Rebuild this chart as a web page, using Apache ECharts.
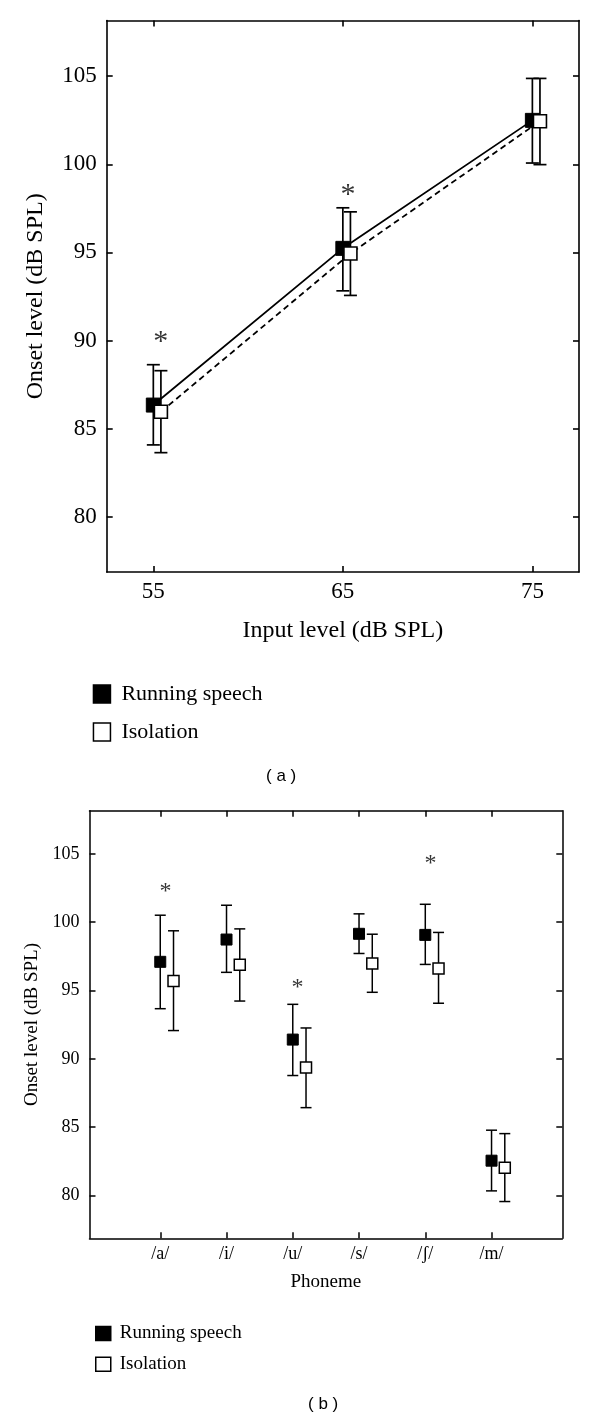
<!DOCTYPE html>
<html><head><meta charset="utf-8">
<script src="https://cdn.jsdelivr.net/npm/echarts@6/dist/echarts.min.js"></script>
<style>html,body{margin:0;padding:0;background:#fff}#c{width:600px;height:1418px}</style>
</head><body><div id="c"></div>
<script>
// ---------- Panel (a) data ----------
const inputLevels = [55, 65, 75];
const runMeanA = [86.34, 95.23, 102.49];
const runLowA  = [84.08, 92.82, 100.07];
const runHighA = [88.63, 97.53, 104.87];
const isoMeanA = [85.96, 94.94, 102.44];
const isoLowA  = [83.64, 92.56, 99.98];
const isoHighA = [88.29, 97.30, 104.87];
const starXA = [55.39, 65.27];
const starYA = [90.37, 98.68];
const yTicks = [80, 85, 90, 95, 100, 105];

// ---------- Panel (b) data ----------
const phonemes = ['/a/', '/i/', '/u/', '/s/', '/ʃ/', '/m/'];
const runMeanB = [97.10, 98.73, 91.41, 99.15, 99.07, 82.55];
const runLowB  = [93.67, 96.33, 88.78, 97.71, 96.91, 80.34];
const runHighB = [100.51, 101.24, 93.99, 100.61, 101.31, 84.78];
const isoMeanB = [95.69, 96.88, 89.37, 96.98, 96.62, 82.04];
const isoLowB  = [92.07, 94.23, 86.43, 94.87, 94.07, 79.56];
const isoHighB = [99.37, 99.51, 92.26, 99.12, 99.25, 84.53];
const starXB = [0.08, 2.07, 4.08];
const starYB = [102.41, 95.33, 104.45];

const seriesNames = ['Running speech', 'Isolation'];

// ---------- layout / style ----------
const SERIF = '"Liberation Serif", "Times New Roman", serif';
const ISO_OFF_A = 0.4, ISO_OFF_B = 0.2;
const yMin = 76.87, yMax = 108.15;

function errSeries(name, xs, lows, highs, xi, yi, cap, lw) {
  return {
    type: 'custom', name: name, xAxisIndex: xi, yAxisIndex: yi, z: 2,
    data: xs.map((x, i) => [x, lows[i], highs[i]]),
    encode: { x: 0, y: [1, 2] },
    renderItem: function (params, api) {
      const x = api.value(0);
      const p1 = api.coord([x, api.value(2)]);
      const p2 = api.coord([x, api.value(1)]);
      const st = { stroke: '#000', lineWidth: lw };
      return { type: 'group', children: [
        { type: 'line', shape: { x1: p1[0], y1: p1[1], x2: p2[0], y2: p2[1] }, style: st },
        { type: 'line', shape: { x1: p1[0] - cap, y1: p1[1], x2: p1[0] + cap, y2: p1[1] }, style: st },
        { type: 'line', shape: { x1: p2[0] - cap, y1: p2[1], x2: p2[0] + cap, y2: p2[1] }, style: st }
      ]};
    }
  };
}

function starSeries(xs, ys, xi, yi, fs, dy) {
  return {
    type: 'scatter', xAxisIndex: xi, yAxisIndex: yi, symbolSize: 1, z: 5,
    itemStyle: { color: 'rgba(0,0,0,0)' }, silent: true,
    data: xs.map((x, i) => [x, ys[i]]),
    label: { show: true, position: 'inside', formatter: '*', color: '#000',
      fontFamily: SERIF, fontSize: fs, offset: [0, dy] }
  };
}

function boxAxes(gi, xmin, xmax, xTicks, xFmt, fsTick, xName, yName, fsName, xNameGap, yNameGap, tickLen, lw, xMargin, yMargin) {
  const line = { show: true, onZero: false, lineStyle: { color: '#000', width: lw } };
  const xa = [
    { type: 'value', gridIndex: gi, position: 'bottom', min: xmin, max: xmax,
      axisLine: line, splitLine: { show: false },
      axisTick: { show: true, inside: true, length: tickLen, customValues: xTicks, lineStyle: { color: '#000', width: lw } },
      axisLabel: { show: true, customValues: xTicks, formatter: xFmt, color: '#000', fontFamily: SERIF, fontSize: fsTick, margin: xMargin },
      name: xName, nameLocation: 'middle', nameGap: xNameGap,
      nameTextStyle: { color: '#000', fontFamily: SERIF, fontSize: fsName } },
    { type: 'value', gridIndex: gi, position: 'top', min: xmin, max: xmax,
      axisLine: line, splitLine: { show: false },
      axisTick: { show: true, inside: true, length: tickLen, customValues: xTicks, lineStyle: { color: '#000', width: lw } },
      axisLabel: { show: false } }
  ];
  const ya = [
    { type: 'value', gridIndex: gi, position: 'left', min: yMin, max: yMax,
      axisLine: line, splitLine: { show: false },
      axisTick: { show: true, inside: true, length: tickLen, customValues: yTicks, lineStyle: { color: '#000', width: lw } },
      axisLabel: { show: true, customValues: yTicks, color: '#000', fontFamily: SERIF, fontSize: fsTick, margin: yMargin },
      name: yName, nameLocation: 'middle', nameGap: yNameGap, nameRotate: 90,
      nameTextStyle: { color: '#000', fontFamily: SERIF, fontSize: fsName } },
    { type: 'value', gridIndex: gi, position: 'right', min: yMin, max: yMax,
      axisLine: line, splitLine: { show: false },
      axisTick: { show: true, inside: true, length: tickLen, customValues: yTicks, lineStyle: { color: '#000', width: lw } },
      axisLabel: { show: false } }
  ];
  return { xa, ya };
}

const A = boxAxes(0, 52.54, 77.46, inputLevels, v => String(v), 23,
  'Input level (dB SPL)', 'Onset level (dB SPL)', 24, 47, 59, 6, 1.6, 8, 10);
const B = boxAxes(1, -1.068, 6.068, phonemes.map((p, i) => i), v => phonemes[Math.round(v)], 18,
  'Phoneme', 'Onset level (dB SPL)', 19, 34, 48, 6, 1.5, 7, 10);

const isoA = inputLevels.map(x => x + ISO_OFF_A);
const isoB = phonemes.map((p, i) => i + ISO_OFF_B);
const runB = phonemes.map((p, i) => i);

const option = {
  backgroundColor: '#fff',
  animation: false,
  grid: [
    { left: 106.7, top: 20.6, width: 472.3, height: 551.4 },
    { left: 89.5, top: 810.8, width: 472.8, height: 427.5 }
  ],
  xAxis: A.xa.concat(B.xa),
  yAxis: A.ya.concat(B.ya),
  legend: [
    { orient: 'vertical', left: 92.7, top: 683, padding: 0, itemWidth: 17, itemHeight: 18, itemGap: 16,
      icon: 'rect', selectedMode: false,
      textStyle: { color: '#000', fontFamily: SERIF, fontSize: 22, padding: [0, 0, 0, 6] },
      data: [
        { name: seriesNames[0], itemStyle: { color: '#000', borderColor: '#000', borderWidth: 1.5 } },
        { name: seriesNames[1], itemStyle: { color: '#fff', borderColor: '#000', borderWidth: 1.5 } }
      ] },
    { orient: 'vertical', left: 95, top: 1324, padding: 0, itemWidth: 15, itemHeight: 14, itemGap: 11.7,
      icon: 'rect', selectedMode: false,
      textStyle: { color: '#000', fontFamily: SERIF, fontSize: 19, padding: [0, 0, 0, 4] },
      data: [
        { name: seriesNames[0], itemStyle: { color: '#000', borderColor: '#000', borderWidth: 1.5 } },
        { name: seriesNames[1], itemStyle: { color: '#fff', borderColor: '#000', borderWidth: 1.5 } }
      ] }
  ],
  graphic: [
    { type: 'text', left: 266, top: 768, style: { text: '( a )', font: '17px "Liberation Sans", Arial, sans-serif', fill: '#000' } },
    { type: 'text', left: 308, top: 1396, style: { text: '( b )', font: '17px "Liberation Sans", Arial, sans-serif', fill: '#000' } }
  ],
  series: [
    // Panel (a)
    errSeries(seriesNames[0], inputLevels, runLowA, runHighA, 0, 0, 6.5, 1.7),
    errSeries(seriesNames[1], isoA, isoLowA, isoHighA, 0, 0, 6.5, 1.7),
    { type: 'line', name: seriesNames[0], xAxisIndex: 0, yAxisIndex: 0, z: 3,
      data: inputLevels.map((x, i) => [x, runMeanA[i]]),
      symbol: 'rect', symbolSize: 14, showSymbol: true,
      lineStyle: { color: '#000', width: 1.8, type: 'solid' },
      itemStyle: { color: '#000', borderColor: '#000', borderWidth: 1 } },
    { type: 'line', name: seriesNames[1], xAxisIndex: 0, yAxisIndex: 0, z: 4,
      data: isoA.map((x, i) => [x, isoMeanA[i]]),
      symbol: 'rect', symbolSize: 13, showSymbol: true,
      lineStyle: { color: '#000', width: 1.8, type: [6, 4] },
      itemStyle: { color: '#fff', borderColor: '#000', borderWidth: 1.6 } },
    starSeries(starXA, starYA, 0, 0, 30, 8),
    // Panel (b)
    errSeries(seriesNames[0], runB, runLowB, runHighB, 2, 2, 5.5, 1.5),
    errSeries(seriesNames[1], isoB, isoLowB, isoHighB, 2, 2, 5.5, 1.5),
    { type: 'scatter', name: seriesNames[0], xAxisIndex: 2, yAxisIndex: 2, z: 3,
      data: runB.map((x, i) => [x, runMeanB[i]]),
      symbol: 'rect', symbolSize: 11,
      itemStyle: { color: '#000', borderColor: '#000', borderWidth: 1, opacity: 1 } },
    { type: 'scatter', name: seriesNames[1], xAxisIndex: 2, yAxisIndex: 2, z: 4,
      data: isoB.map((x, i) => [x, isoMeanB[i]]),
      symbol: 'rect', symbolSize: 11,
      itemStyle: { color: '#fff', borderColor: '#000', borderWidth: 1.5, opacity: 1 } },
    starSeries(starXB, starYB, 2, 2, 24, 2)
  ]
};

const chart = echarts.init(document.getElementById('c'), null, { renderer: 'canvas' });
chart.setOption(option);
</script>
</body></html>
